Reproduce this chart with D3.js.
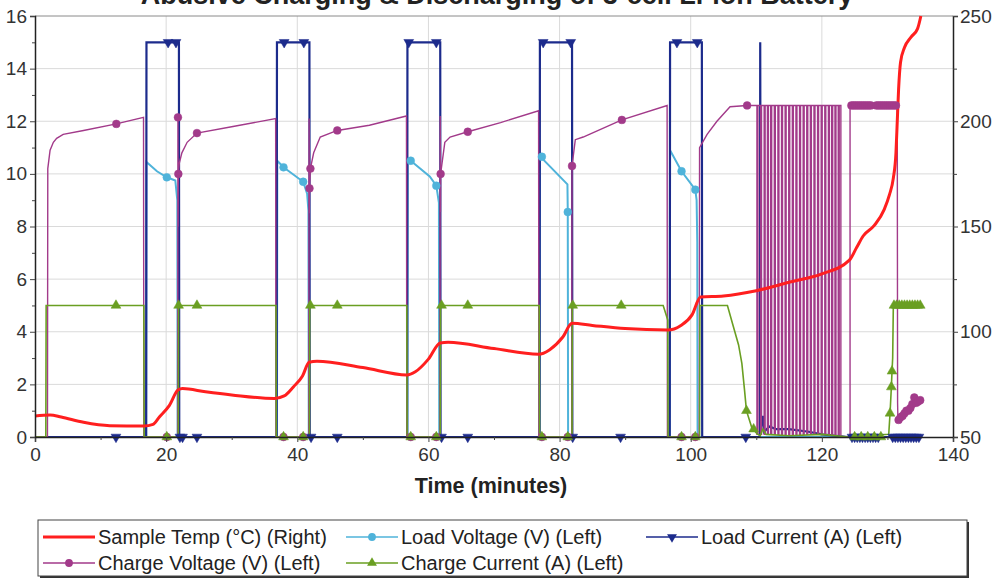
<!DOCTYPE html>
<html>
<head>
<meta charset="utf-8">
<script src="https://cdn.jsdelivr.net/npm/d3@7"></script>
<style>
  body { margin: 0; background: #fff; }
  svg { display: block; font-family: "Liberation Sans", Arial, sans-serif; }
</style>
</head>
<body>
<div id="chart"></div>
<script>
// ---- data (time in minutes) ----
var chartTitle = 'Abusive Charging & Discharging of 3-cell Li-ion Battery';
var xTicks = [0, 20, 40, 60, 80, 100, 120, 140];
var leftTicks = [0, 2, 4, 6, 8, 10, 12, 14, 16];
var rightTicks = [50, 100, 150, 200, 250];

// Sample Temp (C), right axis
var sampleTemp = [[0,60],[2.3,60.5],[4,59.5],[7.4,57],[11.4,55.4],[16.6,55.2],[18,56],[19,59.6],[20.5,65],[21.8,72.3],[22.5,73],[26,71.5],[30,70],[36.5,68.3],[38,69.5],[39.4,73.8],[40.8,79],[41.8,85.5],[43,86],[50,83],[56.7,79.5],[58,81],[60,87],[61.8,94.7],[63,95],[70,92],[76.8,89.3],[78.5,91.5],[80.5,97.5],[81.9,104],[85,103],[90,101.5],[96.5,100.8],[98.5,103],[100.2,108],[101.5,116.5],[105,117],[110,119.5],[115,123.5],[120,127.5],[124.2,134],[125.3,140],[126.3,145.5],[128,150.5],[129.5,158],[130.3,165],[130.9,173],[131.3,185],[131.5,200],[131.7,215],[132.0,228],[132.6,235],[133.6,240],[134.6,244],[135.1,250]];

// Load Voltage (V), left axis
var loadVoltage = [[0,0],[16.95,0],[17.0,10.45],[18.6,10.1],[20.1,9.87],[21.4,9.75],[21.7,9.0],[21.75,0],[36.9,0],[36.95,10.5],[37.9,10.25],[40.9,9.7],[41.5,9.25],[41.7,8.6],[41.75,0],[56.8,0],[56.85,10.6],[57.3,10.5],[60.2,9.9],[61.2,9.55],[61.6,8.9],[61.65,0],[76.95,0],[77.0,10.7],[77.3,10.6],[81.2,9.6],[81.25,8.55],[81.3,0],[96.8,0],[96.85,10.9],[98.6,10.1],[100.7,9.4],[100.9,9.0],[101.0,7.4],[101.05,0],[135,0]];
var loadVoltageMarks = [[20.1,9.87],[37.9,10.25],[40.9,9.7],[57.3,10.5],[61.2,9.55],[77.3,10.65],[81.25,8.55],[98.6,10.1],[100.7,9.4]];

// Load Current (A), left axis
var loadCurrent = [[0,0],[16.95,0],[17.0,15],[21.95,15],[22.0,0],[36.85,0],[36.9,15],[41.85,15],[41.9,0],[56.75,0],[56.8,15],[61.8,15],[61.85,0],[76.95,0],[77.0,15],[81.9,15],[81.95,0],[96.8,0],[96.85,15],[101.7,15],[101.75,0],[110.55,0],[110.6,15],[110.7,0.3],[111.0,0.8],[111.2,0.2],[112,0.4],[113,0.3],[115,0.3],[118,0.2],[120,0.1],[124,0],[135,0]];
var loadCurrentMarks = [[12.35,0],[20.3,15],[21.5,15],[22.1,0],[22.5,0],[24.7,0],[38.0,15],[41.0,15],[42.1,0],[46.1,0],[57.0,15],[61.2,15],[62.0,0],[66.0,0],[77.5,15],[81.7,15],[82.0,0],[89.3,0],[97.9,15],[101.0,15],[108.4,0],
  [124.6,0],[125.0,0],[125.4,0],[125.8,0],[126.2,0],[126.6,0],[127.0,0],[127.4,0],[127.8,0],[128.2,0],[128.6,0],[130.8,0],[131.2,0],[131.6,0],[132.0,0],[132.4,0],[132.8,0],[133.2,0],[133.6,0],[134.0,0],[134.4,0],[134.8,0]];

// Charge Voltage (V), left axis
var chargeVoltage = [[0,0],[1.9,0],[1.95,10.2],[2.3,10.9],[2.8,11.2],[3.3,11.35],[4.3,11.5],[7.4,11.65],[12.4,11.9],[16.55,12.15],[16.6,0],
  [21.75,0],[21.8,12.15],[21.83,8.0],[21.86,10.0],[22.0,10.4],[22.4,10.8],[23.2,11.2],[24.7,11.55],[30.2,11.8],[36.7,12.1],[36.75,0],
  [41.75,0],[41.8,12.1],[41.83,8.5],[41.86,9.45],[42.0,10.2],[42.5,10.8],[43.5,11.4],[46.1,11.65],[51,11.85],[56.65,12.2],[56.7,0],
  [61.75,0],[61.8,12.2],[61.83,8.55],[61.86,10.0],[62.5,11.2],[63.3,11.4],[66.0,11.6],[71,11.95],[76.8,12.4],[76.85,0],
  [81.85,0],[81.9,10.3],[82.4,11.3],[83.6,11.4],[89.5,12.05],[96.4,12.6],[96.45,0],
  [101.3,0],[101.35,11.0],[102.5,11.5],[104,12.0],[106,12.55],[108.6,12.6],[110.1,12.6],
  [110.1,0.1],[110.25,0.1],[110.25,12.6],[110.65,12.6],[110.65,0.1],[110.8,0.1],[110.8,12.6],[111.2,12.6],[111.2,0.1],[111.35,0.1],[111.35,12.6],
  [111.7,12.6],[111.7,0.1],[111.85,0.1],[111.85,12.6],[112.2,12.6],[112.2,0.1],[112.35,0.1],[112.35,12.6],[112.75,12.6],[112.75,0.1],[112.9,0.1],[112.9,12.6],
  [113.3,12.6],[113.3,0.1],[113.45,0.1],[113.45,12.6],[113.85,12.6],[113.85,0.1],[114.0,0.1],[114.0,12.6],[114.4,12.6],[114.4,0.1],[114.55,0.1],[114.55,12.6],
  [114.95,12.6],[114.95,0.1],[115.1,0.1],[115.1,12.6],[115.5,12.6],[115.5,0.1],[115.65,0.1],[115.65,12.6],[116.05,12.6],[116.05,0.1],[116.2,0.1],[116.2,12.6],
  [116.6,12.6],[116.6,0.1],[116.75,0.1],[116.75,12.6],[117.15,12.6],[117.15,0.1],[117.3,0.1],[117.3,12.6],[117.7,12.6],[117.7,0.1],[117.85,0.1],[117.85,12.6],
  [118.25,12.6],[118.25,0.1],[118.4,0.1],[118.4,12.6],[118.8,12.6],[118.8,0.1],[118.95,0.1],[118.95,12.6],[119.35,12.6],[119.35,0.1],[119.5,0.1],[119.5,12.6],
  [119.9,12.6],[119.9,0.1],[120.05,0.1],[120.05,12.6],[120.45,12.6],[120.45,0.1],[120.6,0.1],[120.6,12.6],[121.0,12.6],[121.0,0.1],[121.15,0.1],[121.15,12.6],
  [121.5,12.6],[121.5,0.1],[121.65,0.1],[121.65,12.6],[122.0,12.6],[122.0,0.1],[122.15,0.1],[122.15,12.6],[122.5,12.6],[122.5,0.1],[122.65,0.1],[122.65,12.6],
  [122.9,12.6],[122.9,0],[124.3,0],[124.3,12.6],[131.5,12.6],[131.55,1.3],[131.6,0.6],[132.2,0.8],[132.8,1.0],[133.3,1.1],[133.8,1.25],[134.2,1.6],[134.4,1.3],[135.1,1.4]];
var chargeVoltageMarks = [[12.4,11.9],[20.1,0],[21.8,12.15],[21.86,10.0],[24.7,11.55],[37.9,0],[40.9,0],[41.86,9.45],[42.0,10.2],[46.1,11.65],[57.3,0],[61.2,0],[61.86,10.0],[66.0,11.6],[77.3,0],[81.25,0],[81.9,10.3],[89.5,12.05],[98.6,0],[100.7,0],[108.6,12.6],
  [124.5,12.6],[124.8,12.6],[125.1,12.6],[125.4,12.6],[125.7,12.6],[126.0,12.6],[126.3,12.6],[126.6,12.6],[126.9,12.6],[127.2,12.6],[127.5,12.6],[128.3,12.6],[128.6,12.6],[128.9,12.6],[129.2,12.6],[129.5,12.6],[129.8,12.6],[130.1,12.6],[130.4,12.6],[130.7,12.6],[131.0,12.6],[131.3,12.6],
  [131.7,0.65],[132.0,0.75],[132.3,0.8],[132.6,0.9],[132.9,1.0],[133.2,1.0],[133.5,1.1],[133.8,1.25],[134.1,1.5],[134.4,1.3],[134.7,1.35],[135.0,1.4]];

// Charge Current (A), left axis
var chargeCurrent = [[0,0],[1.65,0],[1.7,5],[16.6,5],[16.65,0],[21.85,0],[21.9,5],[36.75,5],[36.8,0],[41.85,0],[41.9,5],[56.7,5],[56.75,0],[61.8,0],[61.85,5],[76.9,5],[76.95,0],[81.9,0],[81.95,5],[95.8,5],[96.5,4.45],[96.55,0],[101.35,0],[101.4,5],[105.6,5],[106.5,4.2],[107.3,3.5],[107.8,2.8],[108.2,1.8],[108.5,1.0],[109.3,0.37],[110.1,0.13],[110.6,0.05],[111,0.3],[111.5,0.1],[115,0.05],[120,0.1],[124,0],[130.2,0.1],[130.4,0.9],[130.6,1.9],[130.7,2.5],[130.8,3.0],[130.9,5.0],[135,5.0]];
var chargeCurrentMarks = [[12.35,5],[20.1,0],[21.9,5],[24.7,5],[37.9,0],[40.9,0],[42.0,5],[46.1,5],[57.3,0],[61.2,0],[62.0,5],[66.0,5],[77.3,0],[81.25,0],[82.0,5],[89.4,5],[98.6,0],[100.7,0],[108.5,1.0],[109.6,0.3],
  [125.0,0],[126.0,0],[127.0,0],[128.0,0],[129.0,0],[130.4,0.9],[130.6,1.9],[130.7,2.5],
  [131.0,5],[131.4,5],[131.8,5],[132.2,5],[132.6,5],[133.0,5],[133.4,5],[133.8,5],[134.2,5],[134.6,5],[135.0,5]];

var legendNames = ['Sample Temp (\u00B0C) (Right)', 'Load Voltage (V) (Left)', 'Load Current (A) (Left)', 'Charge Voltage (V) (Left)', 'Charge Current (A) (Left)'];

// ---- layout ----
var svgWidth = 994;
var svgHeight = 580;
var plot = { left: 35, right: 953, top: 16, bottom: 437 };

var colors = {
  temp: '#ff1f1f',
  loadV: '#4fb3da',
  loadI: '#1c2b8c',
  chargeV: '#a23a8a',
  chargeI: '#6a9f22'
};

var svg = d3.select('#chart')
  .append('svg')
  .attr('width', svgWidth)
  .attr('height', svgHeight);

var xScale = d3.scaleLinear().domain([0, 140]).range([plot.left, plot.right]);
var yLeft = d3.scaleLinear().domain([0, 16]).range([plot.bottom, plot.top]);
var yRight = d3.scaleLinear().domain([50, 250]).range([plot.bottom, plot.top]);

// Title (cut off at the top edge like the reference)
svg.append('text')
  .attr('x', 497)
  .attr('y', 4)
  .attr('text-anchor', 'middle')
  .attr('font-size', '27px')
  .attr('font-weight', 'bold')
  .attr('fill', '#222')
  .text(chartTitle);

// Gridlines
svg.append('g')
  .selectAll('line')
  .data(leftTicks.filter(d => d > 0 && d < 16))
  .enter()
  .append('line')
  .attr('x1', plot.left).attr('x2', plot.right)
  .attr('y1', d => yLeft(d)).attr('y2', d => yLeft(d))
  .attr('stroke', '#dadada')
  .attr('stroke-width', 1);

svg.append('g')
  .selectAll('line')
  .data(xTicks.filter(d => d > 0 && d < 140))
  .enter()
  .append('line')
  .attr('x1', d => xScale(d)).attr('x2', d => xScale(d))
  .attr('y1', plot.top).attr('y2', plot.bottom)
  .attr('stroke', '#dadada')
  .attr('stroke-width', 1);

// top border of plot area
svg.append('line')
  .attr('x1', plot.left).attr('x2', plot.right)
  .attr('y1', plot.top).attr('y2', plot.top)
  .attr('stroke', '#8a8a8a');

// Line generators
var lineLeft = d3.line().x(d => xScale(d[0])).y(d => yLeft(d[1]));
var lineRight = d3.line().x(d => xScale(d[0])).y(d => yRight(d[1])).curve(d3.curveMonotoneX);

var series = svg.append('g').attr('fill', 'none');

series.append('path').datum(loadVoltage)
  .attr('d', lineLeft).attr('stroke', colors.loadV).attr('stroke-width', 2);
series.append('path').datum(loadCurrent)
  .attr('d', lineLeft).attr('stroke', colors.loadI).attr('stroke-width', 2.2);
series.append('path').datum(chargeVoltage)
  .attr('d', lineLeft).attr('stroke', colors.chargeV).attr('stroke-width', 1.4);
series.append('path').datum(chargeCurrent)
  .attr('d', lineLeft).attr('stroke', colors.chargeI).attr('stroke-width', 1.6);

// Markers
var circleSym = d3.symbol().type(d3.symbolCircle).size(48);
var triSym = d3.symbol().type(d3.symbolTriangle).size(42);

function drawMarks(data, sym, color, rotate) {
  svg.append('g')
    .selectAll('path')
    .data(data)
    .enter()
    .append('path')
    .attr('d', sym)
    .attr('transform', d => `translate(${xScale(d[0])},${yLeft(d[1])})` + (rotate ? ' rotate(180)' : ''))
    .attr('fill', color)
    .attr('stroke', color)
    .attr('stroke-width', 0.5);
}

drawMarks(loadVoltageMarks, circleSym, colors.loadV, false);
drawMarks(loadCurrentMarks, triSym, colors.loadI, true);
drawMarks(chargeVoltageMarks, circleSym, colors.chargeV, false);
drawMarks(chargeCurrentMarks, triSym, colors.chargeI, false);

// Temperature on top
series.append('path').datum(sampleTemp)
  .attr('d', lineRight).attr('stroke', colors.temp).attr('stroke-width', 3)
  .attr('stroke-linejoin', 'round');

// Axes
var tickFont = '19px';

var xAxis = svg.append('g')
  .attr('transform', `translate(0, ${plot.bottom})`)
  .call(d3.axisBottom(xScale).tickValues(xTicks).tickSize(5).tickPadding(6).tickFormat(d3.format('d')));

svg.append('g')
  .attr('transform', `translate(0, ${plot.bottom})`)
  .call(d3.axisBottom(xScale).tickValues([10, 30, 50, 70, 90, 110, 130]).tickSize(3).tickFormat(''))
  .select('.domain').remove();

var yAxisL = svg.append('g')
  .attr('transform', `translate(${plot.left}, 0)`)
  .call(d3.axisLeft(yLeft).tickValues(leftTicks).tickSize(5).tickPadding(3));

svg.append('g')
  .attr('transform', `translate(${plot.left}, 0)`)
  .call(d3.axisLeft(yLeft).tickValues([1, 3, 5, 7, 9, 11, 13, 15]).tickSize(3).tickFormat(''))
  .select('.domain').remove();

var yAxisR = svg.append('g')
  .attr('transform', `translate(${plot.right}, 0)`)
  .call(d3.axisRight(yRight).tickValues(rightTicks).tickSize(5).tickPadding(2));

svg.append('g')
  .attr('transform', `translate(${plot.right}, 0)`)
  .call(d3.axisRight(yRight).tickValues([75, 125, 175, 225]).tickSize(4).tickFormat(''))
  .select('.domain').remove();

[xAxis, yAxisL, yAxisR].forEach(function(ax) {
  ax.selectAll('text')
    .attr('font-size', tickFont)
    .attr('font-family', '"Liberation Sans", Arial, sans-serif')
    .attr('fill', '#333');
});
svg.selectAll('.domain').attr('stroke', '#222').attr('stroke-width', 1.5);
svg.selectAll('.tick line').attr('stroke', '#444');

// Axis title
svg.append('text')
  .attr('x', 491)
  .attr('y', 493)
  .attr('text-anchor', 'middle')
  .attr('font-size', '21.5px')
  .attr('font-weight', 'bold')
  .attr('fill', '#222')
  .text('Time (minutes)');

// Legend
var legendX = 38, legendY = 520, legendW = 929, legendH = 56;
svg.append('rect')
  .attr('x', legendX + 2).attr('y', legendY + 2)
  .attr('width', legendW).attr('height', legendH)
  .attr('fill', '#333');
svg.append('rect')
  .attr('x', legendX).attr('y', legendY)
  .attr('width', legendW).attr('height', legendH)
  .attr('fill', '#fff')
  .attr('stroke', '#444')
  .attr('stroke-width', 1);

var legendItems = [
  { name: legendNames[0], color: colors.temp, sym: null, width: 3 },
  { name: legendNames[1], color: colors.loadV, sym: circleSym, width: 1.5 },
  { name: legendNames[2], color: colors.loadI, sym: triSym, rot: true, width: 1.5 },
  { name: legendNames[3], color: colors.chargeV, sym: circleSym, width: 1.5 },
  { name: legendNames[4], color: colors.chargeI, sym: triSym, width: 1.5 }
];
var colX = [43, 346, 646];
var rowY = [537, 563];

var legendG = svg.append('g')
  .selectAll('g')
  .data(legendItems)
  .enter()
  .append('g')
  .attr('transform', (d, i) => `translate(${colX[i % 3]}, ${rowY[Math.floor(i / 3)]})`);

legendG.append('line')
  .attr('x1', 0).attr('x2', 52)
  .attr('stroke', d => d.color)
  .attr('stroke-width', d => d.width);

legendG.filter(d => d.sym)
  .append('path')
  .attr('d', d => d.sym())
  .attr('transform', d => 'translate(26,0)' + (d.rot ? ' rotate(180)' : ''))
  .attr('fill', d => d.color);

legendG.append('text')
  .attr('x', 55)
  .attr('y', 7)
  .attr('font-size', '20px')
  .attr('fill', '#222')
  .text(d => d.name);
</script>
</body>
</html>
